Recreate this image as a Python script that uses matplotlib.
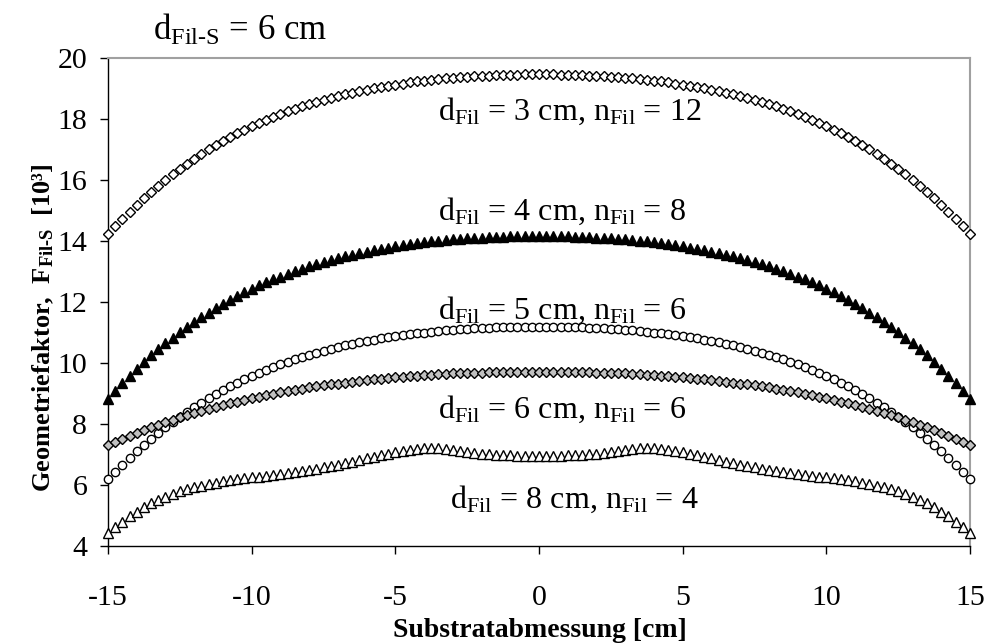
import numpy as np
import matplotlib
matplotlib.use("Agg")
import matplotlib.pyplot as plt

plt.rcParams['font.family'] = ['Liberation Serif', 'DejaVu Serif']
plt.rcParams['mathtext.fontset'] = 'custom'
plt.rcParams['mathtext.default'] = 'regular'
plt.rcParams['mathtext.rm'] = 'Liberation Serif'

# substrate position [cm], 0.25 cm grid
x = np.arange(-15, 15.001, 0.25)

# d_Fil = 3 cm, n_Fil = 12
f3_left = [14.24, 14.49, 14.74, 14.97, 15.20, 15.41, 15.62, 15.82, 16.01, 16.20, 16.37, 16.54, 16.71, 16.86, 17.01,
           17.15, 17.29, 17.42, 17.54, 17.66, 17.77, 17.88, 17.98, 18.08, 18.17, 18.26, 18.34, 18.42, 18.50, 18.57,
           18.64, 18.70, 18.76, 18.82, 18.87, 18.93, 18.97, 19.02, 19.06, 19.10, 19.14, 19.17, 19.21, 19.24, 19.27,
           19.29, 19.32, 19.34, 19.36, 19.38, 19.39, 19.41, 19.42, 19.43, 19.44, 19.45, 19.46, 19.46, 19.47, 19.47]
f3_right = [19.47, 19.47, 19.47, 19.46, 19.46, 19.45, 19.44, 19.43, 19.42, 19.41, 19.39, 19.38, 19.36, 19.34, 19.32,
            19.29, 19.27, 19.24, 19.21, 19.17, 19.14, 19.10, 19.06, 19.02, 18.97, 18.93, 18.87, 18.82, 18.76, 18.70,
            18.64, 18.57, 18.50, 18.42, 18.34, 18.26, 18.17, 18.08, 17.98, 17.88, 17.77, 17.66, 17.54, 17.42, 17.29,
            17.15, 17.01, 16.86, 16.71, 16.54, 16.37, 16.20, 16.01, 15.82, 15.62, 15.41, 15.20, 14.97, 14.74, 14.49,
            14.24]

# d_Fil = 4 cm, n_Fil = 8
f4_left = [8.83, 9.09, 9.34, 9.58, 9.81, 10.03, 10.25, 10.45, 10.65, 10.83, 11.01, 11.18, 11.35, 11.51, 11.66,
           11.80, 11.94, 12.07, 12.20, 12.32, 12.44, 12.55, 12.65, 12.75, 12.84, 12.93, 13.02, 13.10, 13.18, 13.25,
           13.32, 13.39, 13.45, 13.51, 13.56, 13.61, 13.66, 13.71, 13.75, 13.79, 13.83, 13.87, 13.90, 13.93, 13.96,
           13.99, 14.01, 14.04, 14.06, 14.07, 14.09, 14.11, 14.12, 14.13, 14.14, 14.15, 14.16, 14.16, 14.17, 14.17]
f4_right = [14.17, 14.17, 14.17, 14.16, 14.16, 14.15, 14.14, 14.13, 14.12, 14.11, 14.09, 14.07, 14.06, 14.04, 14.01,
            13.99, 13.96, 13.93, 13.90, 13.87, 13.83, 13.79, 13.75, 13.71, 13.66, 13.61, 13.56, 13.51, 13.45, 13.39,
            13.32, 13.25, 13.18, 13.10, 13.02, 12.93, 12.84, 12.75, 12.65, 12.55, 12.44, 12.32, 12.20, 12.07, 11.94,
            11.80, 11.66, 11.51, 11.35, 11.18, 11.01, 10.83, 10.65, 10.45, 10.25, 10.03, 9.81, 9.58, 9.34, 9.09,
            8.83]

# d_Fil = 5 cm, n_Fil = 6
f5_left = [6.20, 6.44, 6.67, 6.90, 7.12, 7.32, 7.52, 7.71, 7.90, 8.07, 8.24, 8.40, 8.56, 8.70, 8.85,
           8.98, 9.11, 9.24, 9.35, 9.47, 9.57, 9.68, 9.78, 9.87, 9.96, 10.04, 10.12, 10.20, 10.27, 10.34,
           10.40, 10.46, 10.52, 10.58, 10.63, 10.68, 10.73, 10.77, 10.81, 10.85, 10.88, 10.92, 10.95, 10.98, 11.00,
           11.03, 11.05, 11.07, 11.09, 11.11, 11.13, 11.14, 11.15, 11.16, 11.17, 11.18, 11.19, 11.19, 11.20, 11.20]
f5_right = [11.20, 11.20, 11.20, 11.19, 11.19, 11.18, 11.17, 11.16, 11.15, 11.14, 11.13, 11.11, 11.09, 11.07, 11.05,
            11.03, 11.00, 10.98, 10.95, 10.92, 10.88, 10.85, 10.81, 10.77, 10.73, 10.68, 10.63, 10.58, 10.52, 10.46,
            10.40, 10.34, 10.27, 10.20, 10.12, 10.04, 9.96, 9.87, 9.78, 9.68, 9.57, 9.47, 9.35, 9.24, 9.11,
            8.98, 8.85, 8.70, 8.56, 8.40, 8.24, 8.07, 7.90, 7.71, 7.52, 7.32, 7.12, 6.90, 6.67, 6.44,
            6.20]

# d_Fil = 6 cm, n_Fil = 6
f6_left = [7.30, 7.41, 7.51, 7.61, 7.71, 7.80, 7.89, 7.98, 8.06, 8.14, 8.22, 8.29, 8.36, 8.43, 8.50,
           8.56, 8.63, 8.69, 8.74, 8.80, 8.85, 8.90, 8.95, 9.00, 9.04, 9.08, 9.12, 9.16, 9.20, 9.24,
           9.27, 9.30, 9.33, 9.36, 9.39, 9.42, 9.44, 9.47, 9.49, 9.51, 9.53, 9.55, 9.57, 9.59, 9.60,
           9.62, 9.63, 9.64, 9.66, 9.67, 9.68, 9.68, 9.69, 9.70, 9.70, 9.71, 9.71, 9.72, 9.72, 9.72]
f6_right = [9.72, 9.72, 9.72, 9.72, 9.71, 9.71, 9.70, 9.70, 9.69, 9.68, 9.68, 9.67, 9.66, 9.64, 9.63,
            9.62, 9.60, 9.59, 9.57, 9.55, 9.53, 9.51, 9.49, 9.47, 9.44, 9.42, 9.39, 9.36, 9.33, 9.30,
            9.27, 9.24, 9.20, 9.16, 9.12, 9.08, 9.04, 9.00, 8.95, 8.90, 8.85, 8.80, 8.74, 8.69, 8.63,
            8.56, 8.50, 8.43, 8.36, 8.29, 8.22, 8.14, 8.06, 7.98, 7.89, 7.80, 7.71, 7.61, 7.51, 7.41,
            7.30]

# d_Fil = 8 cm, n_Fil = 4
f8_left = [4.42, 4.62, 4.80, 4.97, 5.12, 5.27, 5.40, 5.52, 5.62, 5.71, 5.79, 5.86, 5.92, 5.98, 6.03,
           6.08, 6.12, 6.16, 6.19, 6.22, 6.25, 6.28, 6.31, 6.34, 6.37, 6.40, 6.43, 6.46, 6.50, 6.54,
           6.58, 6.62, 6.67, 6.72, 6.77, 6.83, 6.88, 6.93, 6.98, 7.03, 7.07, 7.11, 7.15, 7.18, 7.20,
           7.21, 7.20, 7.18, 7.15, 7.12, 7.09, 7.06, 7.03, 7.01, 6.99, 6.98, 6.97, 6.96, 6.96, 6.95]
f8_right = [6.95, 6.95, 6.96, 6.96, 6.97, 6.98, 6.99, 7.01, 7.03, 7.06, 7.09, 7.12, 7.15, 7.18, 7.20,
            7.21, 7.20, 7.18, 7.15, 7.11, 7.07, 7.03, 6.98, 6.93, 6.88, 6.83, 6.77, 6.72, 6.67, 6.62,
            6.58, 6.54, 6.50, 6.46, 6.43, 6.40, 6.37, 6.34, 6.31, 6.28, 6.25, 6.22, 6.19, 6.16, 6.12,
            6.08, 6.03, 5.98, 5.92, 5.86, 5.79, 5.71, 5.62, 5.52, 5.40, 5.27, 5.12, 4.97, 4.80, 4.62,
            4.42]

labels = [r'd$_{Fil}$ = 3 cm, n$_{Fil}$ = 12',
          r'd$_{Fil}$ = 4 cm, n$_{Fil}$ = 8',
          r'd$_{Fil}$ = 5 cm, n$_{Fil}$ = 6',
          r'd$_{Fil}$ = 6 cm, n$_{Fil}$ = 6',
          r'd$_{Fil}$ = 8 cm, n$_{Fil}$ = 4']
label_x = [-3.5, -3.5, -3.5, -3.5, -3.1]
label_y = [18.26, 14.97, 11.74, 8.48, 5.52]

xticks = [-15, -10, -5, 0, 5, 10, 15]
xtick_labels = ['-15', '-10', '-5', '0', '5', '10', '15']
yticks = [4, 6, 8, 10, 12, 14, 16, 18, 20]

series = [
    (f3_left + f3_right, dict(marker='D', ms=5.0, mfc='white', zorder=3)),
    (f4_left + f4_right, dict(marker='^', ms=7.0, mfc='black', zorder=3)),
    (f5_left + f5_right, dict(marker='o', ms=6.0, mfc='white', zorder=3)),
    (f6_left + f6_right, dict(marker='D', ms=5.3, mfc='#c0c0c0', zorder=4)),
    (f8_left + f8_right, dict(marker='^', ms=6.8, mfc='white', zorder=3)),
]

fig = plt.figure(figsize=(9.86, 6.43), dpi=100)
ax = fig.add_axes([108 / 986, 1 - 546 / 643, (970 - 108) / 986, (546 - 58.3) / 643])

for vals, st in series:
    ax.plot(x, vals, linestyle='none', mec='black', mew=1.0, clip_on=False, **st)

ax.set_xlim(-15, 15)
ax.set_ylim(4, 20)
ax.set_xticks(xticks)
ax.set_xticklabels(xtick_labels)
ax.set_yticks(yticks)

for s in ['top', 'right']:
    ax.spines[s].set_color('#a0a0a0')
    ax.spines[s].set_linewidth(1.5)
for s in ['left', 'bottom']:
    ax.spines[s].set_color('black')
    ax.spines[s].set_linewidth(1.0)

ax.tick_params(axis='both', direction='out', length=6, width=1, labelsize=21.5)
ax.tick_params(axis='x', pad=22)
ax.tick_params(axis='y', pad=9)

for txt, lx, ly in zip(labels, label_x, label_y):
    ax.text(lx, ly, txt, fontsize=23, ha='left', va='center', zorder=5)

fig.text(0.155, 0.953, 'd$_{Fil\u2010S}$ = 6 cm', fontsize=25, ha='left', va='center')
fig.text(0.0436, 0.491, 'Geometriefaktor,  F$_{Fil\u2010S}$  [10³]', fontsize=19,
         fontweight='bold', rotation=90, ha='center', va='center')
fig.text(0.5477, 0.020, 'Substratabmessung [cm]', fontsize=20, fontweight='bold',
         ha='center', va='center')

fig.savefig('out.png', dpi=100)
